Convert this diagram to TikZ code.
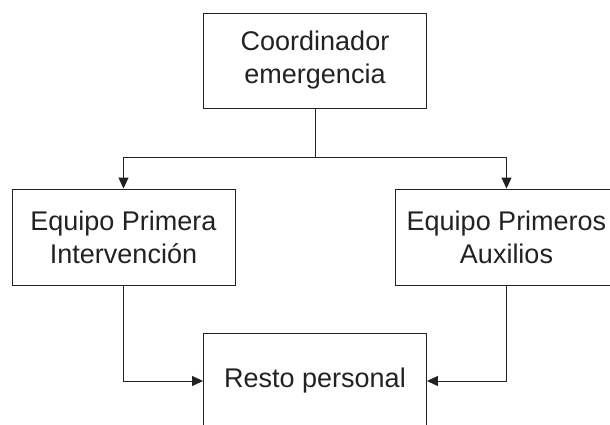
\documentclass[tikz,border=0pt]{standalone}
\usepackage{fontspec}
\setmainfont{Liberation Sans}
\usetikzlibrary{arrows.meta}
\definecolor{ink}{HTML}{222222}
\tikzset{
  box/.style={draw=ink, line width=0.9pt, minimum width=223pt, minimum height=96pt,
    align=center, inner sep=0pt, text=ink, font=\fontsize{27}{33}\selectfont},
  conn/.style={draw=ink, line width=0.9pt},
  arr/.style={conn, -{Triangle[length=11pt, width=10pt]}}
}
\begin{document}
\begin{tikzpicture}[x=1pt, y=-1pt]
\path[use as bounding box, fill=white] (0,0) rectangle (610,425);
\clip (0,0) rectangle (610,425);
\node[box, minimum height=95pt] (coord) at (315,60.5) {Coordinador\\emergencia};
\node[box] (left) at (123.5,237) {Equipo Primera\\Intervención};
\node[box] (right) at (506.5,237) {Equipo Primeros\\Auxilios};
\node[box] (rest) at (315,381) {Resto personal};
\coordinate (j) at (315,157);
\draw[conn] (coord.south) -- (j);
\draw[arr] (j) -| (left.north);
\draw[arr] (j) -| (right.north);
\draw[arr] (left.south) |- (rest.west);
\draw[arr] (right.south) |- (rest.east);
\end{tikzpicture}
\end{document}
